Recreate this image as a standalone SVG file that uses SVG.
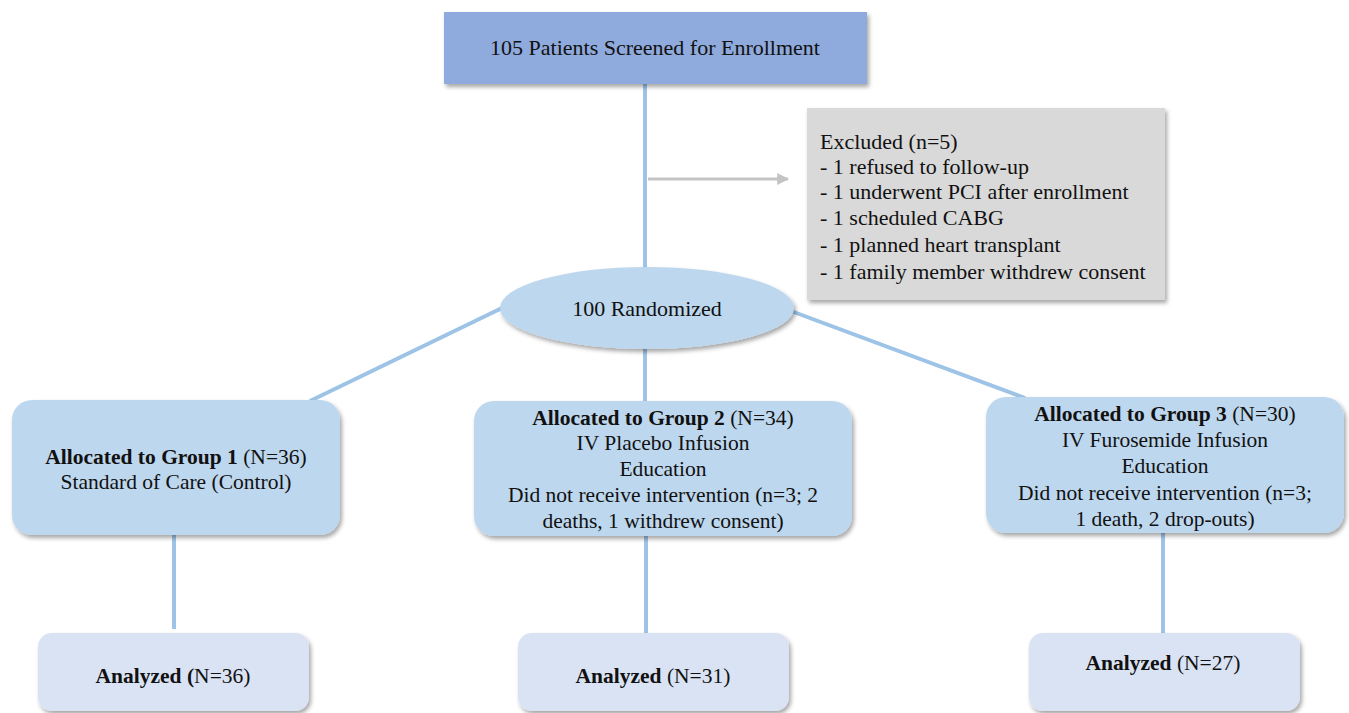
<svg xmlns="http://www.w3.org/2000/svg" width="1349" height="713" viewBox="0 0 1349 713" font-family="'Liberation Serif', 'DejaVu Serif', serif" font-size="22">
<defs>
<filter id="sh" x="-10%" y="-10%" width="120%" height="130%">
<feDropShadow dx="2" dy="3" stdDeviation="2" flood-color="#000" flood-opacity="0.35"/>
</filter>
<marker id="ah" viewBox="0 0 10 10" refX="9" refY="5" markerWidth="4" markerHeight="4" orient="auto" markerUnits="strokeWidth">
<path d="M0,0 L10,5 L0,10 z" fill="#c4c4c4"/>
</marker>
<style>
text{fill:#111}
.c{text-anchor:middle}
.b{font-weight:bold}
.g{font-size:21.5px}
.con{stroke:#9dc3e6;stroke-width:4;fill:none}
.grp{fill:#bdd7ee;filter:url(#sh)}
.ana{fill:#dae3f3;filter:url(#sh)}
</style>
</defs>
<rect width="1349" height="713" fill="#fff"/>
<g id="connectors">
<line class="con" x1="645" y1="84" x2="645" y2="270"/>
<line x1="648" y1="179" x2="788" y2="179" stroke="#c4c4c4" stroke-width="3" marker-end="url(#ah)"/>
<line class="con" x1="502" y1="308" x2="310" y2="401"/>
<line class="con" x1="645" y1="348" x2="645" y2="401"/>
<line class="con" x1="791" y1="311" x2="1025" y2="398"/>
<line class="con" x1="174" y1="535" x2="174" y2="629"/>
<line class="con" x1="646" y1="535" x2="646" y2="633"/>
<line class="con" x1="1163" y1="533" x2="1163" y2="633"/>
</g>
<g id="screened">
<rect x="444" y="12" width="423" height="72" fill="#8faadc" filter="url(#sh)"/>
<text class="c" x="655" y="55">105 Patients Screened for Enrollment</text>
</g>
<g id="excluded">
<rect x="807" y="108" width="358" height="192" fill="#d9d9d9" filter="url(#sh)"/>
<text x="820" y="149">Excluded (n=5)</text>
<text x="820" y="174">- 1 refused to follow-up</text>
<text x="820" y="199">- 1 underwent PCI after enrollment</text>
<text x="820" y="225">- 1 scheduled CABG</text>
<text x="820" y="252">- 1 planned heart transplant</text>
<text x="820" y="279">- 1 family member withdrew consent</text>
</g>
<g id="randomized">
<ellipse cx="647" cy="308" rx="147" ry="41" fill="#bdd7ee" filter="url(#sh)"/>
<text class="c" x="647" y="316">100 Randomized</text>
</g>
<g id="group1">
<rect class="grp" x="12" y="400" width="328" height="135" rx="20"/>
<text class="c g" x="176" y="464"><tspan class="b">Allocated to Group 1</tspan> (N=36)</text>
<text class="c g" x="176" y="489">Standard of Care (Control)</text>
</g>
<g id="group2">
<rect class="grp" x="474" y="401" width="378" height="135" rx="20"/>
<text class="c g" x="663" y="425"><tspan class="b">Allocated to Group 2</tspan> (N=34)</text>
<text class="c g" x="663" y="450">IV Placebo Infusion</text>
<text class="c g" x="663" y="476">Education</text>
<text class="c g" x="663" y="502">Did not receive intervention (n=3; 2</text>
<text class="c g" x="663" y="528">deaths, 1 withdrew consent)</text>
</g>
<g id="group3">
<rect class="grp" x="986" y="397" width="358" height="136" rx="20"/>
<text class="c g" x="1165" y="421"><tspan class="b">Allocated to Group 3</tspan> (N=30)</text>
<text class="c g" x="1165" y="447">IV Furosemide Infusion</text>
<text class="c g" x="1165" y="473">Education</text>
<text class="c g" x="1165" y="500">Did not receive intervention (n=3;</text>
<text class="c g" x="1165" y="526">1 death, 2 drop-outs)</text>
</g>
<g id="analyzed1">
<rect class="ana" x="38" y="633" width="271" height="78" rx="14"/>
<text class="c g" x="173" y="683"><tspan class="b">Analyzed (</tspan>N=36)</text>
</g>
<g id="analyzed2">
<rect class="ana" x="518" y="633" width="271" height="78" rx="14"/>
<text class="c g" x="653" y="683"><tspan class="b">Analyzed</tspan> (N=31)</text>
</g>
<g id="analyzed3">
<rect class="ana" x="1029" y="633" width="271" height="78" rx="14"/>
<text class="c g" x="1163" y="670"><tspan class="b">Analyzed</tspan> (N=27)</text>
</g>
</svg>
